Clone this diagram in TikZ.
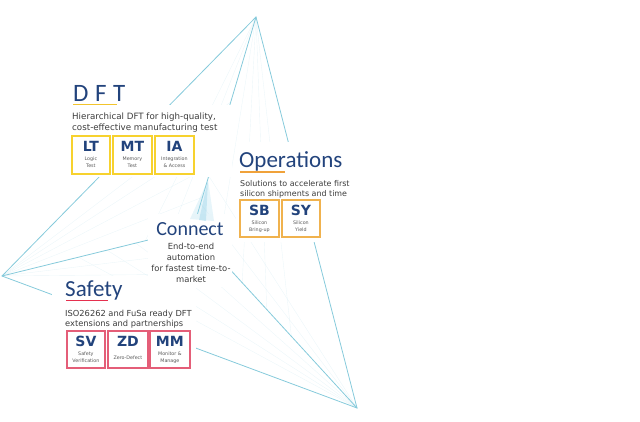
\documentclass[tikz,border=0pt]{standalone}
\usepackage{fontspec}
\setmainfont{DejaVu Sans}
\newfontfamily\titlefont{Carlito}
\usetikzlibrary{calc}

\definecolor{navy}{HTML}{22437C}
\definecolor{bodygray}{HTML}{3C3C3C}
\definecolor{lblgray}{HTML}{5A5A5A}
\definecolor{linecol}{HTML}{86CADB}
\definecolor{fancol}{HTML}{DCEFF5}
\definecolor{glowcol}{HTML}{9FD6EA}
\definecolor{dftyel}{HTML}{F7D22E}
\definecolor{opsorg}{HTML}{F0B24E}
\definecolor{safred}{HTML}{E45E78}
\definecolor{undyel}{HTML}{F2C42C}
\definecolor{undorg}{HTML}{F0A23A}
\definecolor{undred}{HTML}{E5304F}

\tikzset{
  edge/.style={draw=linecol, line width=0.8pt},
  fan/.style={draw=fancol, line width=0.4pt, opacity=0.55},
  blank/.style={fill=white, draw=none},
  title/.style={font=\titlefont\fontsize{#1}{#1}\selectfont, text=navy, inner sep=0pt, anchor=base west},
  desc/.style={font=\fontsize{#1}{11}\selectfont, text=bodygray, inner sep=0pt, anchor=base west},
  featbox/.style={draw=#1, line width=1.8pt, fill=white, anchor=north west, inner sep=0pt},
  abbr/.style={font=\bfseries\fontsize{14}{14}\selectfont, text=navy, inner sep=0pt, anchor=base},
  lbl/.style={font=\fontsize{4.8}{6}\selectfont, text=lblgray, inner sep=0pt, anchor=base},
  uline/.style={line width=1.6pt, draw=#1},
}

% name, x, y, width, height, colour, abbreviation, label line 1, label line 2
\newcommand\featurebox[9]{%
  \node[featbox=#6, minimum width=#4pt, minimum height=#5pt] (#1) at (#2,#3) {};
  \node[abbr] (#1-a) at ($(#1.north)+(0,16.5)$) {#7};
  \node[lbl] (#1-b) at ($(#1.north)+(0,25.8)$) {#8};
  \node[lbl] (#1-c) at ($(#1.north)+(0,32.3)$) {#9};
}

\begin{document}
\begin{tikzpicture}[x=1pt,y=-1pt]
\useasboundingbox (0,0) rectangle (640,421);

\coordinate (T) at (256,17);
\coordinate (L) at (2,276);
\coordinate (B) at (357,408);
\coordinate (C) at (193,229);

% faint string-art fan
\foreach \f in {0.15,0.3,0.45,0.6} {
  \draw[fan] (L) -- ($(C)!\f!(T)$);
  \draw[fan] (B) -- ($(C)!\f!(L)$);
  \draw[fan] (T) -- ($(C)!\f!(B)$);
}
\foreach \f in {0.12,0.25} {
  \draw[fan] (L) -- ($(C)!\f!(B)$);
  \draw[fan] (B) -- ($(C)!\f!(T)$);
  \draw[fan] (T) -- ($(C)!\f!(L)$);
}

% outer triangle and spokes
\draw[edge] (T) -- (L) -- (B) -- cycle;
\draw[edge] (T) -- (C);
\draw[edge] (L) -- (C);
\draw[edge] (B) -- (C);

% white grounds behind the text groups
\fill[blank] (65,105) rectangle (232,177);
\fill[blank] (236,142) rectangle (352,242);
\fill[blank] (148,214) rectangle (232,287);
\fill[blank] (52,276) rectangle (196,372);

% centre glow
\fill[glowcol, opacity=0.25] (208,180) -- (190,219) -- (214,221) -- cycle;
\fill[glowcol, opacity=0.45] (208,180) -- (199,220) -- (206,221) -- cycle;

% DFT
\node[title=25] (dftT) at (73,101) {D\hspace{6.5pt}F\hspace{6.5pt}T};
\draw[uline=undyel] (73,104.5) -- (117,104.5);
\node[desc=8.7] (dftD1) at (72,119.5) {Hierarchical DFT for high-quality,};
\node[desc=8.7] (dftD2) at (72,130.5) {cost-effective manufacturing test};
\featurebox{lt}{71}{135}{38}{38}{dftyel}{LT}{Logic}{Test}
\featurebox{mt}{112}{135}{39}{38}{dftyel}{MT}{Memory}{Test}
\featurebox{ia}{154}{135}{39}{38}{dftyel}{IA}{Integration}{\& Access}

% Operations
\node[title=23] (opsT) at (239,167) {Operations};
\draw[uline=undorg] (240,172) -- (285,172);
\node[desc=7.95] (opsD1) at (240,186) {Solutions to accelerate first};
\node[desc=7.95] (opsD2) at (240,196) {silicon shipments and time};
\featurebox{sb}{239}{199}{39}{37}{opsorg}{SB}{Silicon}{Bring-up}
\featurebox{sy}{281}{199}{38}{37}{opsorg}{SY}{Silicon}{Yield}

% Connect
\node[font=\titlefont\fontsize{20}{20}\selectfont, text=navy, inner sep=0pt, anchor=base] (conT) at (190,235) {Connect};
\node[font=\fontsize{8.4}{11}\selectfont, text=bodygray, inner sep=0pt, anchor=base] (conD1) at (191,249.5) {End-to-end};
\node[font=\fontsize{8.4}{11}\selectfont, text=bodygray, inner sep=0pt, anchor=base] (conD2) at (191,260.5) {automation};
\node[font=\fontsize{8.4}{11}\selectfont, text=bodygray, inner sep=0pt, anchor=base] (conD3) at (191,271) {for fastest time-to-};
\node[font=\fontsize{8.4}{11}\selectfont, text=bodygray, inner sep=0pt, anchor=base] (conD4) at (191,282) {market};

% Safety
\node[title=23] (safT) at (65,296.5) {Safety};
\draw[uline=undred] (66,300.5) -- (108,300.5);
\node[desc=8.3] (safD1) at (65,316) {ISO26262 and FuSa ready DFT};
\node[desc=8.3] (safD2) at (65,326.5) {extensions and partnerships};
\featurebox{sv}{66}{330}{38}{37}{safred}{SV}{Safety}{Verification}
\node[featbox=safred, minimum width=40pt, minimum height=37pt] (zd) at (107,330) {};
\node[abbr] (zd-a) at ($(zd.north)+(0,16.5)$) {ZD};
\node[lbl] (zd-b) at ($(zd.north)+(0,29)$) {Zero-Defect};
\featurebox{mm}{149}{330}{40}{37}{safred}{MM}{Monitor \&}{Manage}
\end{tikzpicture}
\end{document}
